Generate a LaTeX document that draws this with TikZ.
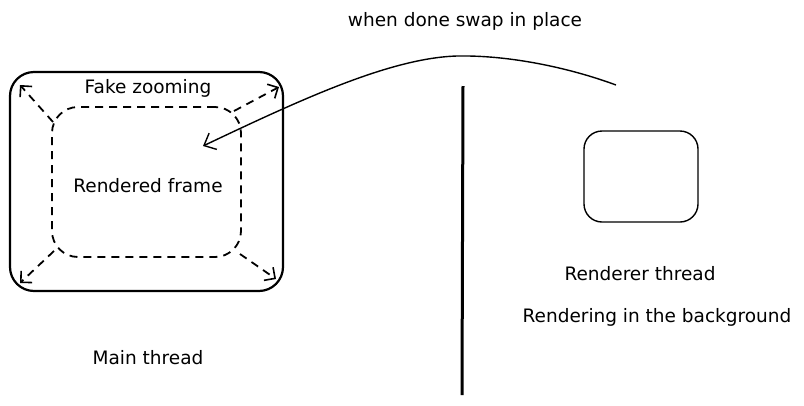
\documentclass[tikz,border=0pt]{standalone}
\usepackage{fontspec}
\setmainfont{DejaVu Sans}
\usetikzlibrary{arrows.meta}
\begin{document}
\begin{tikzpicture}[x=1pt,y=-1pt,
  box/.style={draw, line width=2.2pt, rounded corners=24pt, inner sep=0pt},
  dbox/.style={draw, line width=1.8pt, dash pattern=on 8pt off 6pt, rounded corners=26pt, inner sep=0pt},
  sbox/.style={draw, line width=1.4pt, rounded corners=18pt, inner sep=0pt},
  lbl/.style={font=\fontsize{18.5}{22}\selectfont, inner sep=0pt},
  zarrow/.style={line width=1.8pt, dash pattern=on 8pt off 6pt, -{Straight Barb[length=8pt,width=16pt,line width=1.6pt]}},
  swap/.style={line width=1.4pt, -{Straight Barb[length=10pt,width=18pt,line width=1.4pt]}}
]
\useasboundingbox (0,0) rectangle (804,405);
\node[box, minimum width=273pt, minimum height=219pt] (outer) at (146.5,181.5) {};
\node[dbox, minimum width=189pt, minimum height=150pt] (inner) at (146.5,182) {};
\node[sbox, minimum width=114pt, minimum height=91pt] (rbox) at (641,176.5) {};
\node[lbl] (fake) at (148,88) {Fake zooming};
\node[lbl] (frame) at (148,186) {Rendered frame};
\node[lbl] (main) at (148,358) {Main thread};
\node[lbl] (rt) at (640,274) {Renderer thread};
\node[lbl] (bg) at (657,317) {Rendering in the background};
\node[lbl] (swapt) at (465,21) {when done swap in place};
\coordinate (s1) at (53,122); \coordinate (t1) at (20,85);
\coordinate (s2) at (234,111); \coordinate (t2) at (279,87);
\coordinate (s3) at (54,251); \coordinate (t3) at (20,283);
\coordinate (s4) at (240,254); \coordinate (t4) at (276,279);
\draw[zarrow] (s1) -- (t1);
\draw[zarrow] (s2) -- (t2);
\draw[zarrow] (s3) -- (t3);
\draw[zarrow] (s4) -- (t4);
\coordinate (vtop) at (463,86); \coordinate (vbot) at (462,395);
\draw[line width=3pt] (vtop) -- (vbot);
\coordinate (cs) at (616,85); \coordinate (cp) at (457,56); \coordinate (ce) at (203,146);
\draw[swap] (cs) .. controls (570,68) and (510,55) .. (cp) .. controls (390,58) and (300,100) .. (ce);
\end{tikzpicture}
\end{document}
